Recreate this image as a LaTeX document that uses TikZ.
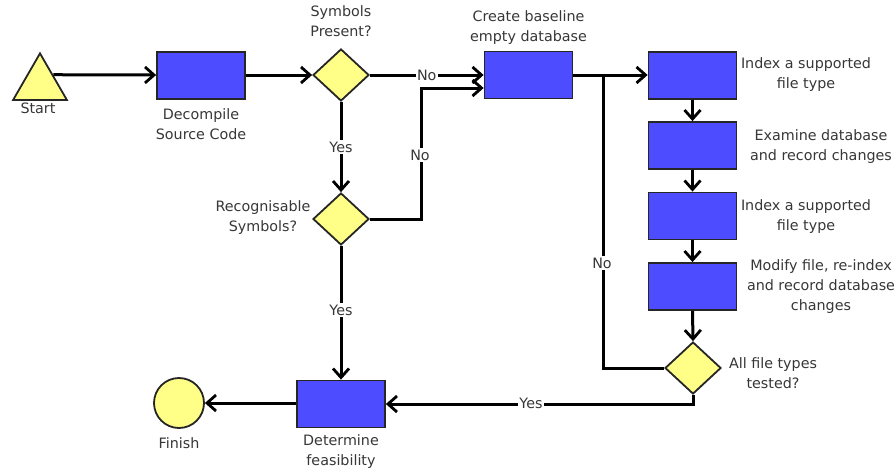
\documentclass[tikz,border=0pt]{standalone}
\usepackage{fontspec}
\setmainfont{DejaVu Sans}
\usetikzlibrary{shapes.geometric,arrows.meta,calc}
\definecolor{boxblue}{RGB}{77,77,255}
\definecolor{decyellow}{RGB}{255,255,136}
\definecolor{txt}{RGB}{55,55,55}
\begin{document}
\begin{tikzpicture}[x=1pt,y=-1pt,
  proc/.style={draw=black!85,line width=1.8pt,fill=boxblue,minimum width=88pt,minimum height=47pt,inner sep=0pt},
  dec/.style={draw=black!85,line width=1.8pt,fill=decyellow,diamond,minimum width=56pt,minimum height=52pt,inner sep=0pt,aspect=1.08},
  lbl/.style={text=txt,font=\fontsize{14.3}{20}\selectfont,align=center,inner sep=0pt},
  onl/.style={text=txt,font=\fontsize{14.3}{20}\selectfont,fill=white,inner sep=1.5pt},
  conn/.style={line width=3pt,black},
  arr/.style={conn,-{Straight Barb[length=9pt,width=16pt,line width=2.8pt]}}]
\useasboundingbox[fill=white] (0,0) rectangle (896,471);
% nodes
\node[regular polygon,regular polygon sides=3,minimum size=62pt,draw=black!85,line width=1.8pt,fill=decyellow,inner sep=0pt] (start) at (40,84.4) {};
\node[lbl] (startL) at (38,108) {Start};
\node[proc] (decomp) at (201,75.5) {};
\node[lbl] (decompL) at (201,124) {Decompile\\Source Code};
\node[dec] (sym) at (341,75) {};
\node[lbl] (symL) at (341,21) {Symbols\\Present?};
\node[proc] (create) at (528.5,75) {};
\node[lbl] (createL) at (528.5,28) {Create baseline\\empty database};
\node[dec] (recog) at (341,219) {};
\node[lbl] (recogL) at (263,218) {Recognisable\\Symbols?};
\node[proc] (determ) at (341,404) {};
\node[lbl] (determL) at (341,452) {Determine\\feasibility};
\node[circle,draw=black!85,line width=1.8pt,fill=decyellow,minimum size=50pt,inner sep=0pt] (finish) at (179,403) {};
\node[lbl] (finishL) at (179,443) {Finish};
\node[proc] (idx1) at (692.5,75.5) {};
\node[lbl] (idx1L) at (806,75) {Index a supported\\file type};
\node[proc] (exam) at (692.5,145.5) {};
\node[lbl] (examL) at (821,147) {Examine database\\and record changes};
\node[proc] (idx2) at (692.5,216) {};
\node[lbl] (idx2L) at (806,217) {Index a supported\\file type};
\node[proc] (modif) at (692.5,286.5) {};
\node[lbl] (modifL) at (821,287) {Modify file, re-index\\and record database\\changes};
\node[dec] (allt) at (693,368) {};
\node[lbl] (alltL) at (773,373) {All file types\\tested?};
\coordinate (j1) at (421,219);
\coordinate (j2) at (421,88);
\coordinate (j3) at (603,368);
\coordinate (j4) at (603,75);
\coordinate (j5) at (693,404);
% connectors
\draw[arr] ($(start.corner 1)!0.47!(start.corner 3)$) -- (decomp.west |- 0,75);
\draw[arr] (decomp.east |- 0,75) -- (sym.west);
\draw[arr] (sym.east) -- (create.west |- 0,75) node[onl,pos=0.5] (noA) {No};
\draw[arr] (sym.south) -- (recog.north) node[onl,pos=0.5] (yesA) {Yes};
\draw[arr] (recog.east) -- (j1) -- (j2) -- (create.west |- j2);
\node[onl] (noB) at (420,155) {No};
\draw[arr] (recog.south) -- (determ.north) node[onl,pos=0.48] (yesB) {Yes};
\draw[arr] (create.east |- 0,75) -- (idx1.west |- 0,75);
\draw[arr] (idx1.south) -- (exam.north);
\draw[arr] (exam.south) -- (idx2.north);
\draw[arr] (idx2.south) -- (modif.north);
\draw[arr] (modif.south) -- (allt.north);
\draw[conn] (allt.west) -- (j3) -- (j4);
\node[onl] (noC) at (602,263) {No};
\draw[arr] (allt.south) -- (j5) -- (determ.east |- j5);
\node[onl] (yesC) at (531,403) {Yes};
\draw[arr] (determ.west |- 0,403) -- (finish.east);
\end{tikzpicture}
\end{document}
